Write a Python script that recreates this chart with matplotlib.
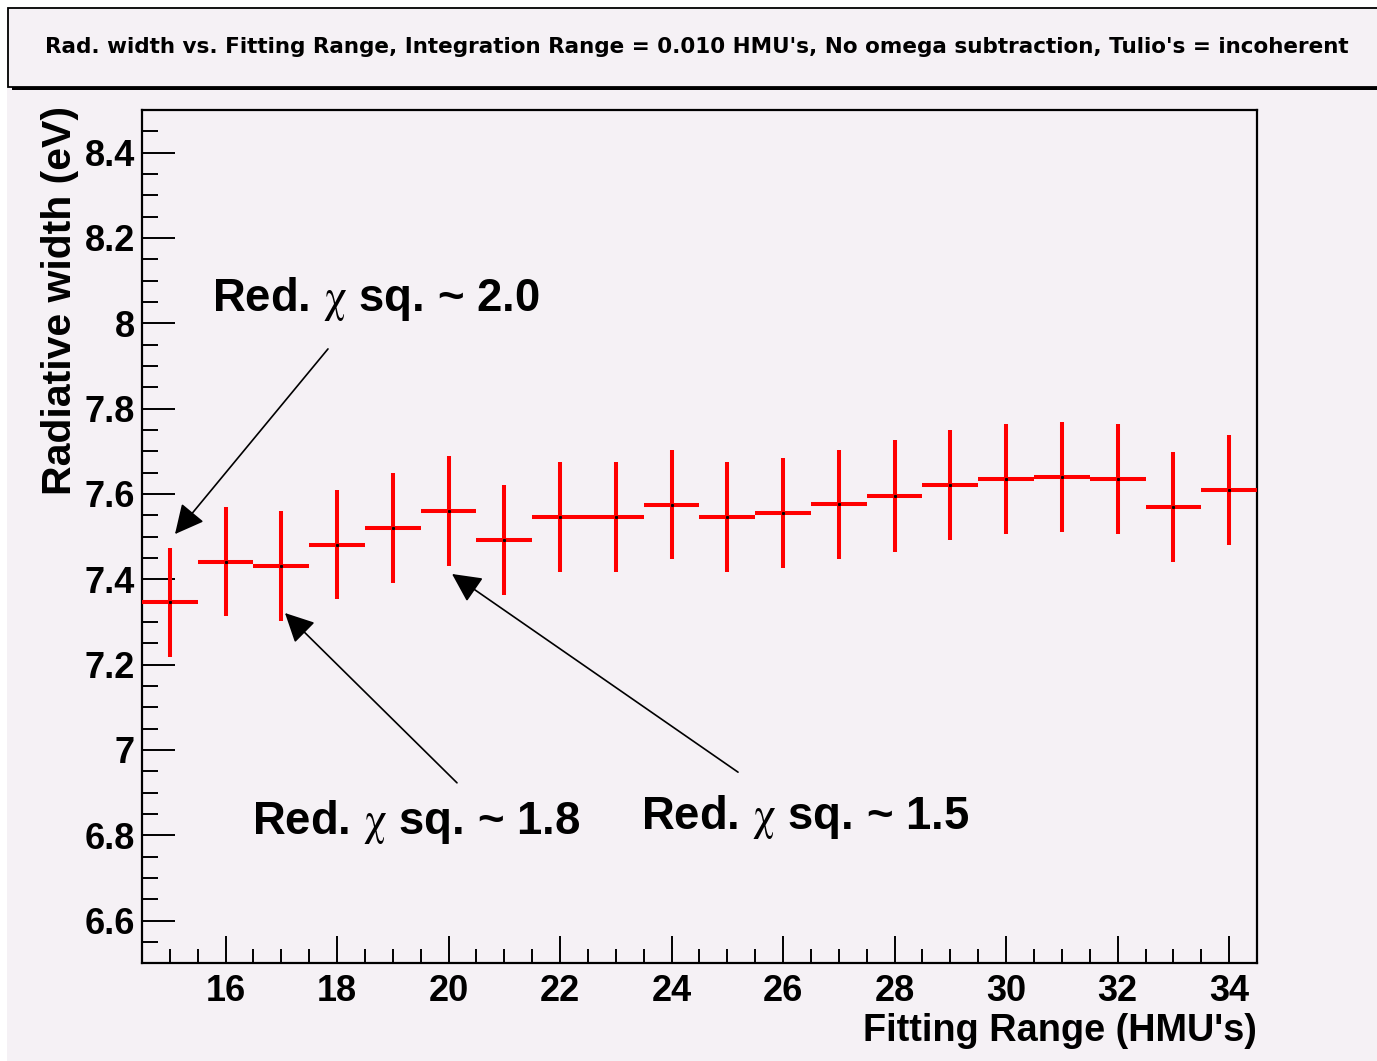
import matplotlib
matplotlib.use("Agg")
import matplotlib.pyplot as plt
from matplotlib.patches import Rectangle
from matplotlib.ticker import MultipleLocator, FuncFormatter

# ---------------- data ----------------
fit_range = [15, 16, 17, 18, 19, 20, 21, 22, 23, 24, 25, 26, 27, 28, 29, 30, 31, 32, 33, 34]
rad_width = [7.346, 7.441, 7.431, 7.481, 7.521, 7.561, 7.492, 7.546, 7.546, 7.575,
             7.546, 7.556, 7.576, 7.595, 7.621, 7.635, 7.640, 7.635, 7.570, 7.610]
rad_err = [0.128, 0.128, 0.129, 0.128, 0.129, 0.129, 0.128, 0.129, 0.129, 0.128,
           0.129, 0.129, 0.128, 0.131, 0.129, 0.128, 0.129, 0.128, 0.129, 0.129]
bin_half_width = 0.5

title = ("Rad. width vs. Fitting Range, Integration Range = 0.010 HMU's, "
         "No omega subtraction, Tulio's = incoherent")
xlabel = "Fitting Range (HMU's)"
ylabel = "Radiative width (eV)"

# annotations: (text, text_xy, arrow_tail, arrow_tip) in data units
ann_texts = [r"Red. $\mathrm{\chi}$ sq. ~ 2.0",
             r"Red. $\mathrm{\chi}$ sq. ~ 1.8",
             r"Red. $\mathrm{\chi}$ sq. ~ 1.5"]
ann_text_pos = [(15.756, 8.030), (16.473, 6.803), (23.451, 6.815)]
ann_tails = [(17.836, 7.940), (20.150, 6.923), (25.191, 6.948)]
ann_tips = [(15.092, 7.506), (17.065, 7.321), (20.061, 7.4125)]

# ---------------- style ----------------
plt.rcParams['font.family'] = ['Liberation Sans', 'DejaVu Sans']
plt.rcParams['mathtext.fontset'] = 'stix'
BG = '#F5F1F5'

W, H = 1377, 1061
fig = plt.figure(figsize=(W / 100, H / 100), dpi=100, facecolor='white')

# canvas background (pinkish) with small white margin at left/top
fig.patches.append(Rectangle((7 / W, 0), 1, 1 - 7 / H, transform=fig.transFigure,
                             facecolor=BG, edgecolor='none', zorder=-10))

# title pave with shadow
tb_left, tb_right = 8 / W, 1.02
tb_top, tb_bot = 1 - 8 / H, 1 - 87 / H
fig.patches.append(Rectangle((tb_left + 4 / W, tb_bot - 3 / H), tb_right - tb_left,
                             tb_top - tb_bot, transform=fig.transFigure,
                             facecolor='black', edgecolor='none', zorder=1))
fig.patches.append(Rectangle((tb_left, tb_bot), tb_right - tb_left, tb_top - tb_bot,
                             transform=fig.transFigure, facecolor=BG,
                             edgecolor='black', linewidth=1.3, zorder=2))
fig.text(697 / W, 1 - 47 / H, title, ha='center', va='center',
         fontsize=15.5, fontweight='bold', family='DejaVu Sans', zorder=3)

ax = fig.add_axes([142 / W, 1 - 963.3 / H, (1257 - 142) / W, (963.3 - 110) / H])
ax.set_facecolor(BG)
ax.set_zorder(5)

ax.errorbar(fit_range, rad_width, yerr=rad_err, xerr=bin_half_width,
            fmt='none', ecolor='#FF0000', elinewidth=2.9, capsize=0, zorder=3)
ax.plot(fit_range, rad_width, linestyle='none', marker='s', markersize=1.2,
        color='black', zorder=4)

ax.set_xlim(14.5, 34.5)
ax.set_ylim(6.5, 8.5)

ax.xaxis.set_major_locator(MultipleLocator(2))
ax.xaxis.set_minor_locator(MultipleLocator(0.5))
ax.yaxis.set_major_locator(MultipleLocator(0.2))
ax.yaxis.set_minor_locator(MultipleLocator(0.05))
ax.yaxis.set_major_formatter(FuncFormatter(lambda v, p: f"{v:g}"))
ax.xaxis.set_major_formatter(FuncFormatter(lambda v, p: f"{v:g}"))

for s in ax.spines.values():
    s.set_linewidth(1.6)

ax.tick_params(axis='both', which='both', direction='in', top=False, right=False,
               width=1.4, color='black')
ax.tick_params(axis='y', which='major', length=24, pad=5, labelsize=26)
ax.tick_params(axis='y', which='minor', length=11.5)
ax.tick_params(axis='x', which='major', length=19.5, pad=7.5, labelsize=26)
ax.tick_params(axis='x', which='minor', length=10)
for lbl in ax.get_xticklabels() + ax.get_yticklabels():
    lbl.set_fontweight('bold')

ax.set_xlabel(xlabel, fontsize=27.3, fontweight='bold', loc='right', labelpad=3)
ax.set_ylabel(ylabel, fontsize=29.5, fontweight='bold', loc='top', labelpad=4)
ax.yaxis.label.set_y(1.005)

for txt, tpos, tail, tip in zip(ann_texts, ann_text_pos, ann_tails, ann_tips):
    ax.annotate('', xy=tip, xytext=tail,
                arrowprops=dict(arrowstyle='-|>', mutation_scale=45, lw=1.2,
                                color='black', shrinkA=0, shrinkB=0), zorder=5)
    ax.text(tpos[0], tpos[1], txt, fontsize=32.8, fontweight='bold',
            ha='left', va='baseline', zorder=5)

fig.savefig('out.png', dpi=100, facecolor=fig.get_facecolor())
